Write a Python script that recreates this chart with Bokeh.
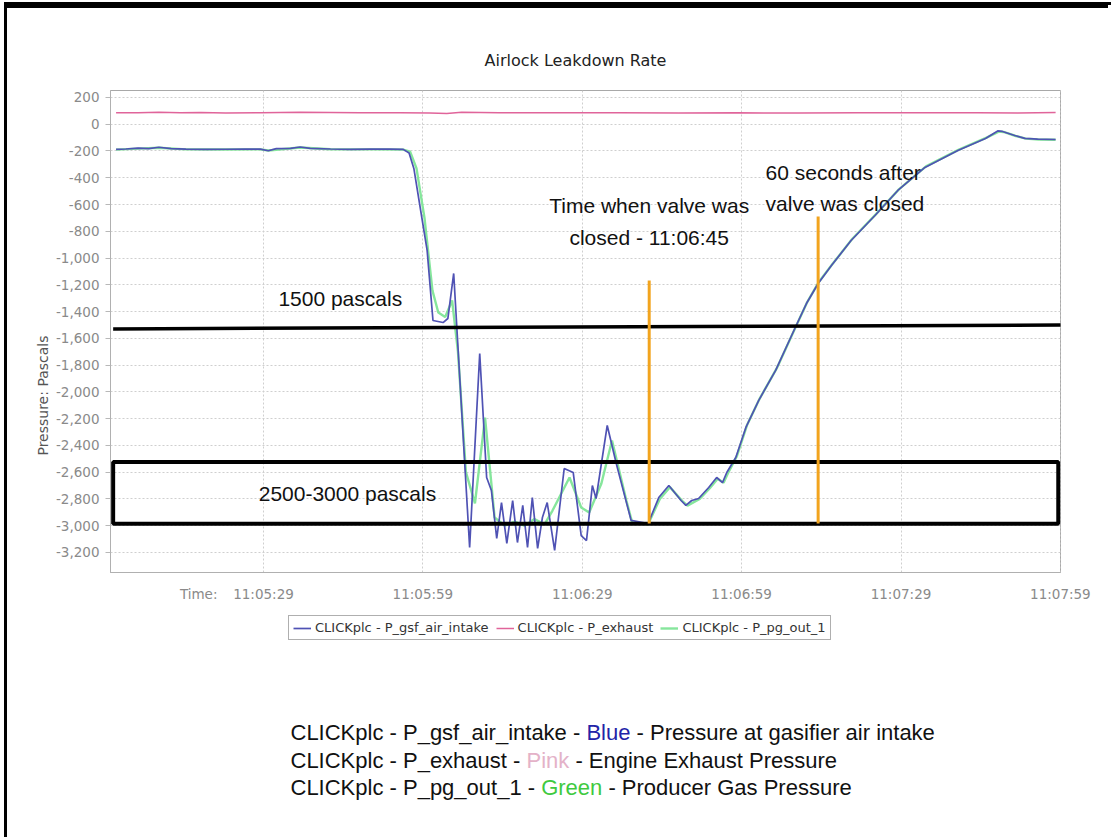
from datetime import datetime, timedelta
import math

from bokeh.plotting import figure
from bokeh.layouts import column, row
from bokeh.models import (ColumnDataSource, FixedTicker, NumeralTickFormatter,
                          DatetimeTickFormatter, Range1d, Label, Legend, LegendItem, Div)
from bokeh.embed import file_html
from bokeh.resources import INLINE

# ---------------------------------------------------------------- data
# time stamps are seconds after 11:05:00
BASE = datetime(2014, 1, 1, 11, 5, 0)

intake_t = [1.25, 3.1, 5.4, 7.4, 9.3, 11.6, 14.4, 18.1, 21.9, 25.6, 28.4, 29.9, 31.4,
            34.1, 35.9, 37.8, 41.6, 45.3, 49.1, 52.8, 55.3, 56.4, 57.3, 58.4, 59.8,
            60.9, 62.8, 63.7, 64.8, 67.8, 69.7, 71.0, 71.9, 72.9, 73.8, 74.8, 75.9,
            76.8, 77.8, 78.7, 79.6, 80.6, 81.5, 82.4, 83.8, 85.6, 87.3, 88.8, 89.8,
            90.9, 91.6, 93.7, 95.4, 98.2, 101.4, 103.4, 105.3, 107.6, 108.5, 109.6,
            110.9, 112.8, 114.3, 115.4, 116.2, 117.9, 119.8, 122.2, 125.4, 129.1,
            131.2, 133.4, 135.9, 139.6, 144.1, 148.4, 153.5, 159.7, 164.9, 167.2,
            168.1, 170.4, 172.3, 174.7, 178.1]
intake_p = [-188, -185, -178, -182, -172, -182, -186, -188, -187, -186, -186, -198, -182,
            -180, -170, -180, -185, -188, -186, -186, -188, -215, -330, -600, -943,
            -1467, -1482, -1452, -1115, -3163, -1713, -2640, -2737, -3096, -2827, -3133, -2812,
            -3126, -2849, -3163, -2790, -3170, -2939, -2827, -3185, -2573, -2603, -3074, -3111,
            -2700, -2797, -2251, -2535, -2961, -2984, -2790, -2700, -2812, -2849, -2812,
            -2797, -2715, -2640, -2678, -2603, -2491, -2266, -2065, -1840, -1519,
            -1340, -1190, -1056, -869, -682, -495, -323, -196, -106, -50,
            -54, -84, -106, -112, -114]

exhaust_t = [1.25, 5.4, 9.3, 13.4, 17.2, 21.9, 28.4, 35.9, 41.6, 47.2, 54.7, 60.3, 63.5,
             66.3, 73.4, 84.7, 95.9, 107.2, 118.4, 129.7, 140.9, 152.2, 163.4, 171.0, 178.1]
exhaust_p = [85, 86, 90, 85, 88, 84, 86, 89, 88, 86, 85, 84, 80,
             90, 86, 85, 85, 84, 85, 84, 86, 85, 86, 84, 87]

pg_out_t = [1.25, 5.4, 9.3, 14.4, 21.9, 28.4, 29.9, 35.9, 41.6, 49.1, 55.3, 56.6, 57.8,
            59.3, 60.8, 61.9, 63.2, 64.5, 65.6, 67.1, 68.8, 70.7, 72.5, 74.4, 76.3,
            78.1, 80.0, 81.9, 83.4, 86.6, 88.8, 90.3, 92.6, 94.6, 97.3, 98.4, 101.4,
            103.6, 105.5, 107.8, 108.8, 111.1, 113.0, 114.5, 115.6, 116.4, 118.1, 120.0,
            122.4, 125.6, 129.3, 131.4, 133.6, 136.1, 139.8, 144.3, 148.6, 153.7, 159.9,
            165.1, 167.4, 168.3, 170.6, 172.5, 174.9, 178.1]
pg_out_p = [-190, -182, -176, -188, -189, -188, -196, -174, -187, -188, -190, -205, -330,
            -700, -1243, -1407, -1440, -1317, -1700, -2600, -2834, -2192, -2939, -3000, -2970,
            -3000, -2950, -2990, -2887, -2640, -2864, -2902, -2685, -2363, -2812, -2977, -2990,
            -2800, -2712, -2815, -2850, -2800, -2720, -2650, -2680, -2610, -2480, -2250,
            -2050, -1825, -1505, -1325, -1175, -1045, -858, -672, -487, -315, -190,
            -100, -55, -58, -88, -108, -114, -116]

series_names = ["CLICKplc - P_gsf_air_intake", "CLICKplc - P_exhaust", "CLICKplc - P_pg_out_1"]
series_colors = ["#4f52b4", "#e0649a", "#86e69c"]
series_widths = [1.7, 1.5, 2.4]

tick_labels = ["11:05:29", "11:05:59", "11:06:29", "11:06:59", "11:07:29", "11:07:59"]
y_ticks = list(range(-3200, 201, 200))

# hand-drawn markers on the chart
threshold_line = [-1530, -1500]          # "1500 pascals" line, left / right end
band_top, band_bottom = -2525, -2985     # "2500-3000 pascals" box
valve_t = [101.6, 133.4]                 # valve closed, and 60 s later
valve_top = [-1168, -689]

notes = [
    ("CLICKplc - P_gsf_air_intake", "Blue", "Pressure at gasifier air intake", "#2323a8"),
    ("CLICKplc - P_exhaust", "Pink", "Engine Exhaust Pressure", "#e4b2c8"),
    ("CLICKplc - P_pg_out_1", "Green", "Producer Gas Pressure", "#3fca3f"),
]

# ---------------------------------------------------------------- helpers
EPOCH = datetime(1970, 1, 1)


def ms(sec):
    return int(round((BASE + timedelta(seconds=sec) - EPOCH).total_seconds() * 1000.0))


def clock_ms(label):
    h, m, s = (int(v) for v in label.split(":"))
    return ms((h - BASE.hour) * 3600 + (m - BASE.minute) * 60 + s - BASE.second)


# advance widths of Liberation Sans (per 1000 em)
ADV = {' ': 278, '-': 333, '_': 556, 'C': 722, 'L': 556, 'I': 278, 'K': 667, 'P': 667,
       'B': 667, 'G': 778, 'E': 667, 'p': 556, 'l': 222, 'c': 500, 'g': 556, 's': 500,
       'f': 278, 'a': 556, 'i': 222, 'r': 333, 'n': 556, 't': 278, 'k': 500, 'e': 556,
       'u': 556, 'x': 500, 'h': 556, 'o': 556, 'd': 556, '1': 556}


def text_w(s, size):
    return sum(ADV.get(c, 556) for c in s) * size / 1000.0


def canvas_fig(x0, x1, y0, y1):
    """Plain drawing surface mapped 1:1 onto page pixels (y grows downward)."""
    f = figure(width=int(x1 - x0), height=int(y1 - y0), x_range=Range1d(x0, x1),
               y_range=Range1d(y1, y0), x_axis_type=None, y_axis_type=None,
               output_backend="svg", title=None, toolbar_location=None, min_border=0,
               outline_line_color=None)
    f.background_fill_color = "white"
    f.border_fill_color = "white"
    f.grid.visible = False
    f.frame_align = False
    return f


# ---------------------------------------------------------------- page regions
W, H = 1111, 837
PAD_X = 7             # page frame: 3 px black rule inside a 4 px white margin
RULE_T, RULE_H = 5, 3  # top rule of the page frame
PAD_Y = RULE_T + RULE_H
TOP_H = 90            # page y where the plot frame starts
LEFT_W = 50           # page x where the chart figure starts
FRAME_B = 572         # page y of the plot frame bottom
MID_H = 515           # height of the chart row

# top rule of the page frame
top_rule = Div(text="", width=W - PAD_X, height=RULE_H, margin=0,
               styles={"background-color": "black", "margin-left": "-3px",
                       "width": f"{W - PAD_X + 3}px"})

# title strip
p_top = canvas_fig(PAD_X, W, PAD_Y, TOP_H)
p_top.add_layout(Label(x=575, y=60, text="Airlock Leakdown Rate", text_font="DejaVu Sans",
                       text_font_size="16px", text_color="#222222",
                       text_align="center", text_baseline="middle"))

# y caption strip
p_left = canvas_fig(PAD_X, LEFT_W, TOP_H, TOP_H + MID_H)
p_left.add_layout(Label(x=42, y=395, text="Pressure: Pascals", text_font="DejaVu Sans",
                        text_font_size="14px", text_color="#555555", angle=math.pi / 2,
                        text_align="center", text_baseline="middle"))

# ---------------------------------------------------------------- chart
FRAME_L, FRAME_R = 110, 1060
p = figure(width=W - LEFT_W, height=MID_H, x_axis_type="datetime",
           x_range=Range1d(ms(0.2), ms(179.02)), y_range=Range1d(-3350, 252),
           output_backend="svg", toolbar_location=None, title=None,
           min_border_left=FRAME_L - LEFT_W, min_border_right=W - FRAME_R,
           min_border_top=0, min_border_bottom=MID_H - (FRAME_B - TOP_H))
p.frame_align = False
p.background_fill_color = "white"
p.border_fill_color = "white"
p.outline_line_color = "#a8a8a8"
p.outline_line_width = 1

time_caption_t = ms(16.8)          # slot left of the first time label holds "Time:"
time_ticks = [clock_ms(t) for t in tick_labels]

p.yaxis.ticker = FixedTicker(ticks=y_ticks)
p.yaxis.formatter = NumeralTickFormatter(format="0,0")
p.xaxis.ticker = FixedTicker(ticks=[time_caption_t] + time_ticks)
fmt = "%H:%M:%S"
p.xaxis.formatter = DatetimeTickFormatter(
    microseconds=fmt, milliseconds=fmt, seconds=fmt, minsec=fmt, minutes=fmt,
    hourmin=fmt, hours=fmt, days=fmt, months=fmt, years=fmt, boundary_scaling=False)
p.xaxis.major_label_overrides = {time_caption_t: "Time:"}
for ax in (p.xaxis, p.yaxis):
    ax.major_label_text_font = "DejaVu Sans"
    ax.major_label_text_font_size = "13.5px"
    ax.major_label_text_color = "#8a8a8a"
    ax.axis_line_color = "#b0b0b0"
    ax.major_tick_line_color = "#b8b8b8"
    ax.major_tick_out = 5
    ax.major_tick_in = 0
    ax.minor_tick_out = 0
    ax.minor_tick_in = 0
p.xaxis.major_tick_line_color = None
p.xaxis.major_tick_out = 4
p.yaxis.major_label_standoff = 6
p.xaxis.major_label_standoff = 9

for g in (p.xgrid, p.ygrid):
    g.grid_line_color = "#cfcfcf"
    g.grid_line_dash = "2 2"
    g.grid_line_width = 1
p.xgrid.ticker = FixedTicker(ticks=time_ticks)
p.ygrid.ticker = FixedTicker(ticks=y_ticks)

src_in = ColumnDataSource(dict(t=[ms(s) for s in intake_t], p=intake_p))
src_ex = ColumnDataSource(dict(t=[ms(s) for s in exhaust_t], p=exhaust_p))
src_pg = ColumnDataSource(dict(t=[ms(s) for s in pg_out_t], p=pg_out_p))

p.line("t", "p", source=src_pg, line_color=series_colors[2], line_width=series_widths[2])
p.line("t", "p", source=src_ex, line_color=series_colors[1], line_width=series_widths[1])
p.line("t", "p", source=src_in, line_color=series_colors[0], line_width=series_widths[0])

# markers drawn over the chart
p.segment(x0=[ms(0.7)], y0=[threshold_line[0]], x1=[ms(179.5)], y1=[threshold_line[1]],
          line_color="black", line_width=3.5)
p.quad(left=[ms(0.7)], right=[ms(178.6)], top=[band_top], bottom=[band_bottom],
       fill_color=None, line_color="black", line_width=4)
p.segment(x0=[ms(t) for t in valve_t], y0=[band_bottom + 1] * 2,
          x1=[ms(t) for t in valve_t], y1=valve_top,
          line_color="#f2a41e", line_width=3)

ann = [
    ("1500 pascals", 31.8, -1302, "left"),
    ("2500-3000 pascals", 28.1, -2760, "left"),
    ("Time when valve was", valve_t[0], -607, "center"),
    ("closed - 11:06:45", valve_t[0], -846, "center"),
    ("60 seconds after", 123.5, -360, "left"),
    ("valve was closed", 123.5, -592, "left"),
]
for txt, t, v, al in ann:
    p.add_layout(Label(x=ms(t), y=v, text=txt, text_font="Liberation Sans",
                       text_font_size="21px", text_color="#111111",
                       text_align=al, text_baseline="middle"))

# ---------------------------------------------------------------- legend and colour key
BOT_Y0 = TOP_H + MID_H
p_bot = canvas_fig(PAD_X, W, BOT_Y0, H)

# legend swatches: short strokes placed off the visible area
swatches = [p_bot.line(x=[-50, -40], y=[H + 50, H + 50], line_color=c, line_width=w)
            for c, w in zip(series_colors, series_widths)]
legend = Legend(items=[LegendItem(label=n, renderers=[r]) for n, r in zip(series_names, swatches)],
                location=(288 - PAD_X, H - 640), orientation="horizontal",
                label_text_font="DejaVu Sans", label_text_font_size="13px",
                label_text_color="#333333", glyph_width=18, glyph_height=12,
                label_standoff=4, spacing=7, padding=4, margin=0,
                border_line_color="#606060", border_line_width=1,
                background_fill_color="white", background_fill_alpha=1)
p_bot.add_layout(legend)

NOTE_SIZE = 22
x0 = 290
for i, (name, word, desc, col) in enumerate(notes):
    yy = 732 + i * 27.5
    head = name + " - "
    p_bot.add_layout(Label(x=x0, y=yy, text=name + " -", text_font="Liberation Sans",
                           text_font_size=f"{NOTE_SIZE}px", text_color="#111111",
                           text_baseline="middle"))
    p_bot.add_layout(Label(x=x0 + text_w(head, NOTE_SIZE), y=yy, text=word,
                           text_font="Liberation Sans", text_font_size=f"{NOTE_SIZE}px",
                           text_color=col, text_baseline="middle"))
    p_bot.add_layout(Label(x=x0 + text_w(head + word + " ", NOTE_SIZE), y=yy,
                           text="- " + desc, text_font="Liberation Sans",
                           text_font_size=f"{NOTE_SIZE}px", text_color="#111111",
                           text_baseline="middle"))

# the left rule of the page frame is the outline of the whole layout; the top
# rule is the thin bar that opens the layout
page = column(top_rule, p_top, row(p_left, p, spacing=0), p_bot, spacing=0,
              margin=(RULE_T, 0, 0, PAD_X),
              styles={"outline": "3px solid black"})
open("out.html", "w").write(file_html(page, INLINE))
